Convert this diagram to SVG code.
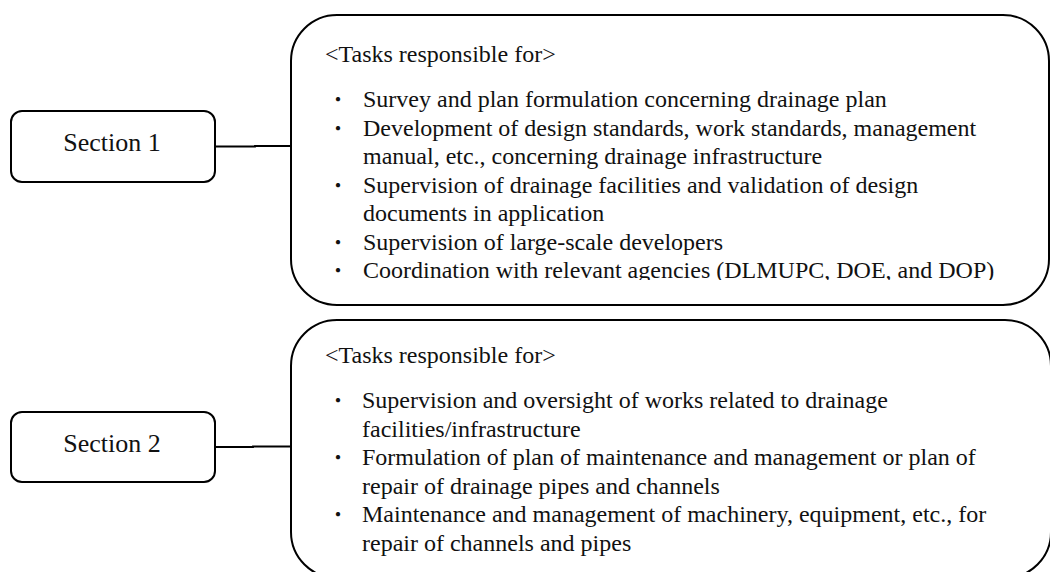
<svg xmlns="http://www.w3.org/2000/svg" width="1050" height="572" viewBox="0 0 1050 572">
<defs>
<style>
.box{fill:#fff;stroke:#000;stroke-width:2}
.lbl{font-family:"Liberation Serif","Times New Roman",serif;font-size:26px;fill:#111;text-anchor:middle}
.t{font-family:"Liberation Serif","Times New Roman",serif;font-size:24px;fill:#111}
.b{font-family:"Noto Sans CJK JP",sans-serif;font-size:20px;fill:#111;text-anchor:middle}
.conn{fill:none;stroke:#000;stroke-width:1.8}
</style>
<clipPath id="clip1"><rect x="291" y="15" width="758" height="265"/></clipPath>
</defs>
<rect width="1050" height="572" fill="#fff"/>
<g id="connectors">
<path class="conn" d="M215 146.5 H255 V146 H291"/>
<path class="conn" d="M215 447 H253 V446.5 H291"/>
</g>
<g id="section1">
<rect class="box" x="11" y="111" width="204" height="71" rx="11"/>
<text class="lbl" x="112" y="151">Section 1</text>
</g>
<g id="section2">
<rect class="box" x="11" y="412" width="204" height="70" rx="11"/>
<text class="lbl" x="112" y="452">Section 2</text>
</g>
<g id="tasks1">
<rect class="box" x="291" y="15" width="758" height="290" rx="46"/>
<g clip-path="url(#clip1)">
<text class="t" x="325" y="62">&lt;Tasks responsible for&gt;</text>
<text class="b" x="338" y="107">・</text>
<text class="t" x="363" y="107">Survey and plan formulation concerning drainage plan</text>
<text class="b" x="338" y="135.5">・</text>
<text class="t" x="363" y="135.5">Development of design standards, work standards, management</text>
<text class="t" x="363" y="164">manual, etc., concerning drainage infrastructure</text>
<text class="b" x="338" y="192.5">・</text>
<text class="t" x="363" y="192.5">Supervision of drainage facilities and validation of design</text>
<text class="t" x="363" y="221">documents in application</text>
<text class="b" x="338" y="249.5">・</text>
<text class="t" x="363" y="249.5">Supervision of large-scale developers</text>
<text class="b" x="338" y="278">・</text>
<text class="t" x="363" y="278">Coordination with relevant agencies (DLMUPC, DOE, and DOP)</text>
</g>
</g>
<g id="tasks2">
<rect class="box" x="291" y="320" width="760" height="258" rx="46"/>
<text class="t" x="325" y="363">&lt;Tasks responsible for&gt;</text>
<text class="b" x="338" y="408">・</text>
<text class="t" x="362" y="408">Supervision and oversight of works related to drainage</text>
<text class="t" x="362" y="436.5">facilities/infrastructure</text>
<text class="b" x="338" y="465">・</text>
<text class="t" x="362" y="465">Formulation of plan of maintenance and management or plan of</text>
<text class="t" x="362" y="493.5">repair of drainage pipes and channels</text>
<text class="b" x="338" y="522">・</text>
<text class="t" x="362" y="522">Maintenance and management of machinery, equipment, etc., for</text>
<text class="t" x="362" y="550.5">repair of channels and pipes</text>
</g>
</svg>
